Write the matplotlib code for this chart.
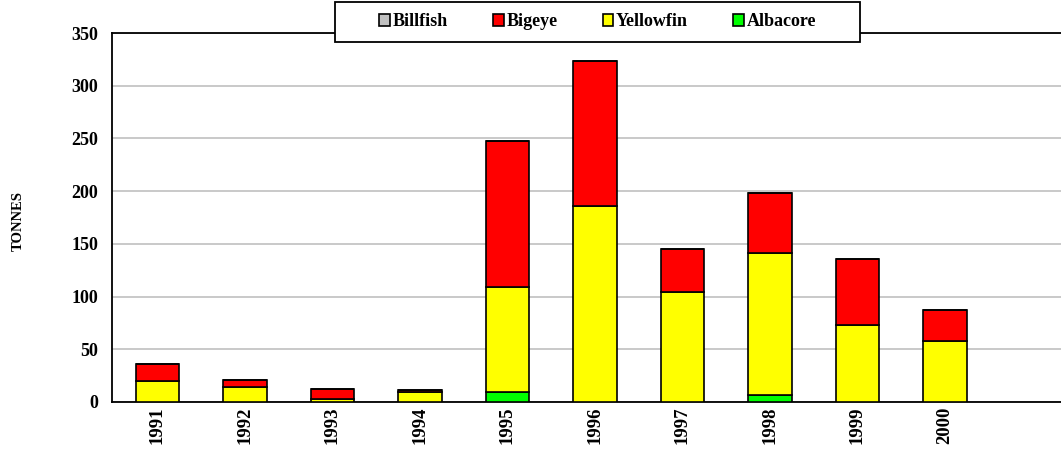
import numpy as np
import matplotlib
matplotlib.use("Agg")
import matplotlib.pyplot as plt
from matplotlib.patches import Rectangle

plt.rcParams['font.family'] = ['Liberation Serif', 'DejaVu Serif']
plt.rcParams['font.weight'] = 'bold'

years = ['1991', '1992', '1993', '1994', '1995', '1996', '1997', '1998', '1999', '2000']
albacore = [0, 0, 0, 0, 9.2, 0, 0, 6.4, 0, 0]
yellowfin = [20, 14, 2.5, 9.2, 99.8, 186, 104.7, 135.3, 73.4, 57.6]
bigeye = [16, 6.6, 10.2, 1.8, 139, 137, 40.3, 56.9, 62.6, 30]
billfish = [0, 0, 0, 0, 0, 0, 0, 0, 0, 0]

series = [
    ('Albacore', albacore, '#00ff00'),
    ('Yellowfin', yellowfin, '#ffff00'),
    ('Bigeye', bigeye, '#ff0000'),
    ('Billfish', billfish, '#c0c0c0'),
]

W, H = 1061, 454
fig = plt.figure(figsize=(W / 100, H / 100), dpi=100)
ax = fig.add_axes([112 / W, 1 - 402 / H, 1 - 112 / W, (402 - 33) / H])

x = np.arange(len(years))
bottom = np.zeros(len(years))
handles = {}
for name, vals, col in series:
    vals = np.array(vals, dtype=float)
    b = ax.bar(x, vals, 0.5, bottom=bottom, color=col, edgecolor='black',
               linewidth=1.2, label=name, zorder=3)
    handles[name] = b
    bottom += vals

ax.set_xlim(-0.52, 10.326)
ax.set_ylim(0, 350)
ax.set_yticks(np.arange(0, 351, 50))
ax.set_xticks(x)
ax.set_xticklabels(years, rotation=90, fontsize=13.5, fontweight='bold')
for lab in ax.get_yticklabels():
    lab.set_fontsize(13)
    lab.set_fontweight('bold')
ax.tick_params(axis='both', length=0)
ax.tick_params(axis='y', pad=10)
ax.tick_params(axis='x', pad=3)
ax.grid(axis='y', color='#c0c0c0', linewidth=1.2, zorder=0)
ax.set_axisbelow(True)
for s in ['left', 'bottom', 'top']:
    ax.spines[s].set_linewidth(1.3)
ax.spines['right'].set_visible(False)

ax.set_ylabel('TONNES', fontsize=10.5, fontweight='bold')
ax.yaxis.set_label_coords(-0.092, 0.49)

# legend box drawn separately (wider side padding than matplotlib allows)
box = Rectangle((335 / W, 1 - 42 / H), 525 / W, 40 / H, transform=fig.transFigure,
                facecolor='white', edgecolor='black', linewidth=1.3, zorder=4)
fig.patches.append(box)

order = ['Billfish', 'Bigeye', 'Yellowfin', 'Albacore']
leg = fig.legend([handles[n] for n in order], order, loc='center',
                 bbox_to_anchor=(597.5 / W, 1 - 22 / H), ncol=4,
                 prop={'size': 13, 'weight': 'bold'}, frameon=False,
                 handlelength=0.6, handleheight=0.6, handletextpad=0.15,
                 columnspacing=2.5, borderpad=0, borderaxespad=0)
leg.set_zorder(5)

fig.savefig('out.png', dpi=100)
